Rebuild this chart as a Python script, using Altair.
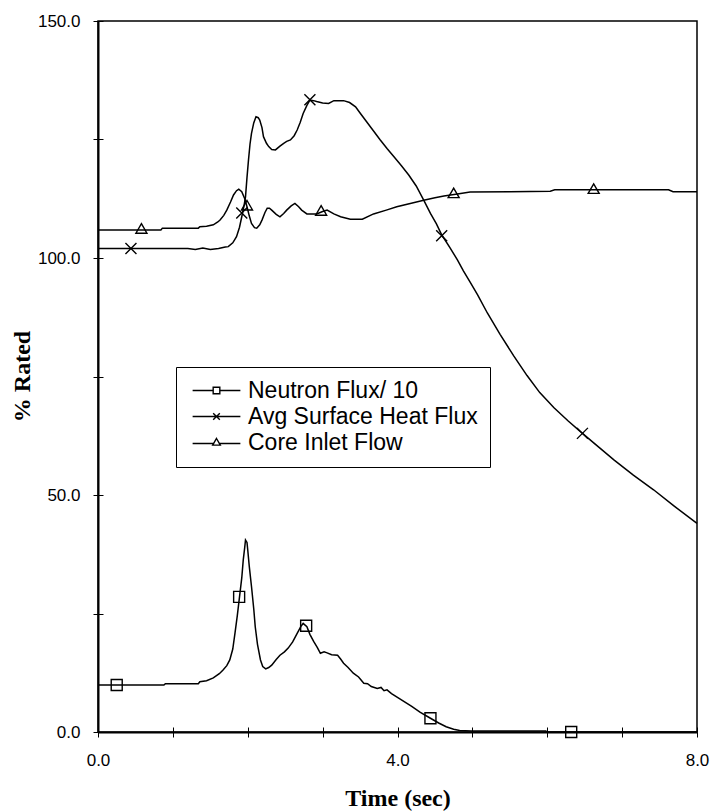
import altair as alt
import pandas as pd

# ---------------- data ----------------
SERIES = ["Neutron Flux/ 10", "Avg Surface Heat Flux", "Core Inlet Flow"]

nf_t = [0.0, 0.88, 0.9, 1.34, 1.36, 1.45, 1.54, 1.62, 1.67, 1.72, 1.76, 1.80, 1.83, 1.86,
        1.89, 1.92, 1.94, 1.96, 1.97, 1.99, 2.0, 2.02, 2.05, 2.08, 2.10, 2.13, 2.17, 2.2,
        2.24, 2.28, 2.32, 2.38, 2.43, 2.49, 2.54, 2.6, 2.66, 2.71, 2.74, 2.79, 2.83, 2.88,
        2.93, 2.97, 3.02, 3.06, 3.12, 3.20, 3.24, 3.28, 3.34, 3.41, 3.48, 3.55, 3.6, 3.65,
        3.73, 3.78, 3.82, 3.86, 3.92, 4.01, 4.1, 4.19, 4.3, 4.44, 4.55, 4.65, 4.75, 4.83,
        4.99, 5.5, 5.98, 6.0, 8.0]
nf_v = [9.9, 9.9, 10.2, 10.2, 10.6, 10.8, 11.4, 12.3, 13.1, 14.0, 15.2, 17.5, 20.9, 24.5,
        28.5, 32.5, 36.3, 39.0, 40.5, 40.0, 38.4, 35.0, 30.7, 26.0, 22.2, 18.5, 15.2, 13.8,
        13.3, 13.6, 14.1, 15.3, 16.2, 16.9, 17.7, 19.0, 20.8, 22.3, 22.9, 22.2, 20.6, 19.1,
        17.8, 16.6, 16.9, 16.7, 16.3, 16.2, 15.4, 14.5, 13.6, 12.4, 11.6, 10.3, 10.2, 9.6,
        9.2, 9.4, 8.7, 8.9, 8.1, 7.2, 6.3, 5.4, 4.2, 2.9, 1.9, 1.1, 0.6, 0.3,
        0.2, 0.2, 0.2, 0.0, 0.0]

hf_t = [0.0, 1.2, 1.3, 1.4, 1.5, 1.61, 1.7, 1.74, 1.8, 1.85, 1.89, 1.92, 1.95, 1.97, 1.99,
        2.01, 2.03, 2.05, 2.08, 2.11, 2.14, 2.16, 2.19, 2.21, 2.25, 2.28, 2.32, 2.37, 2.43,
        2.48, 2.52, 2.57, 2.62, 2.66, 2.70, 2.74, 2.79, 2.83, 2.88, 2.92, 3.0, 3.08, 3.15,
        3.28, 3.36, 3.44, 3.5, 3.57, 3.67, 3.77, 3.86, 3.95, 4.05, 4.15, 4.25, 4.35, 4.44,
        4.52, 4.59, 4.7, 4.8, 4.88, 4.97, 5.07, 5.2, 5.37, 5.55, 5.73, 5.9, 6.09, 6.28,
        6.47, 6.68, 6.89, 7.15, 7.42, 7.7, 8.0]
hf_v = [102.0, 102.0, 101.8, 102.1, 101.8, 102.0, 102.3, 102.4, 103.2, 104.5, 106.5, 108.7,
        111.0, 112.9, 117.0, 120.7, 124.0, 126.3, 128.5, 129.8, 129.6, 129.1, 127.5, 125.6,
        124.2, 123.5, 122.9, 122.8, 123.6, 124.2, 124.6, 124.9, 125.8, 127.0, 128.6, 130.5,
        132.2, 133.3, 133.2, 133.0, 132.7, 132.6, 133.2, 133.2, 132.8, 131.9, 130.6, 129.1,
        127.0, 124.9, 123.1, 121.4, 119.5, 117.5, 115.2, 112.2, 109.4, 107.2, 104.9, 102.2,
        99.6, 97.3, 94.9, 92.2, 88.4, 83.9, 79.4, 75.2, 71.6, 68.4, 65.6, 63.0, 60.2, 57.4,
        54.2, 51.1, 47.6, 44.0]

cf_t = [0.0, 0.84, 0.86, 1.34, 1.36, 1.45, 1.54, 1.6, 1.63, 1.68, 1.72, 1.77, 1.81, 1.85,
        1.88, 1.92, 1.96, 1.99, 2.02, 2.05, 2.09, 2.12, 2.16, 2.19, 2.23, 2.26, 2.29, 2.32,
        2.38, 2.43, 2.48, 2.52, 2.58, 2.63, 2.68, 2.72, 2.79, 2.92, 3.0, 3.06, 3.15, 3.24,
        3.37, 3.53, 3.68, 3.85, 3.99, 4.17, 4.35, 4.5, 4.62, 4.8, 4.97, 5.5, 6.04, 6.1,
        7.62, 7.68, 8.0]
cf_v = [105.9, 105.9, 106.3, 106.3, 106.6, 106.7, 107.0, 107.6, 108.0, 109.0, 110.1, 111.8,
        113.3, 114.2, 114.5, 114.0, 112.5, 110.8, 108.9, 107.3, 106.4, 106.3, 107.0, 108.0,
        109.6, 110.5, 110.5, 110.1, 109.2, 108.7, 109.4, 110.1, 111.0, 111.5, 110.8, 110.1,
        109.3, 109.3, 109.8, 110.1, 109.3, 108.7, 108.2, 108.2, 109.3, 110.1, 110.8, 111.5,
        112.2, 112.7, 113.1, 113.5, 113.9, 114.0, 114.1, 114.4, 114.4, 114.0, 114.0]

# marker positions
nf_mt = [0.25, 1.885, 2.78, 4.44, 6.32]
nf_mv = [9.9, 28.5, 22.4, 2.9, 0.0]
hf_mt = [0.44, 1.92, 2.83, 4.59, 6.47]
hf_mv = [102.0, 109.5, 133.4, 104.7, 63.0]
cf_mt = [0.58, 1.99, 2.98, 4.75, 6.62]
cf_mv = [105.9, 110.8, 109.7, 113.4, 114.3]

x_ticks = [0, 1, 2, 3, 4, 5, 6, 7, 8]
y_ticks = [0, 25, 50, 75, 100, 125, 150]

# ---------------- tables ----------------
def frame(ts, vs, name):
    return pd.DataFrame({"t": ts, "v": vs, "series": name})

lines_df = pd.concat([frame(nf_t, nf_v, SERIES[0]),
                      frame(hf_t, hf_v, SERIES[1]),
                      frame(cf_t, cf_v, SERIES[2])], ignore_index=True)
marks_df = pd.concat([frame(nf_mt, nf_mv, SERIES[0]),
                      frame(hf_mt, hf_mv, SERIES[1]),
                      frame(cf_mt, cf_mv, SERIES[2])], ignore_index=True)

# marker glyphs (unit paths)
SQUARE = "M-1,-1L1,-1L1,1L-1,1Z"
XMARK = "M-1,-1L1,1M-1,1L1,-1"
TRI = "M0,-1.15L1,0.58L-1,0.58Z"
# legend glyphs: line + marker
L = 7.2
LEG_SQUARE = f"M-{L},0L-1,0M1,0L{L},0M-1,-1L1,-1L1,1L-1,1Z"
LEG_X = f"M-{L},0L{L},0M-1,-1L1,1M-1,1L1,-1"
LEG_TRI = f"M-{L},0.3L-1,0.3M1,0.3L{L},0.3M0,-1.2L1.15,0.8L-1.15,0.8Z"

XS = alt.Scale(domain=[0, 8], nice=False)
YS = alt.Scale(domain=[0, 150], nice=False)

x_enc = alt.X("t:Q", scale=XS,
              axis=alt.Axis(values=x_ticks, orient="bottom",
                            labelExpr="datum.value % 4 == 0 ? format(datum.value, '.1f') : ''",
                            title="Time (sec)", titleX=299.5, titleY=66,
                            titleBaseline="middle", labelFlush=False,
                            tickSize=5, labelPadding=15, grid=False))
y_enc = alt.Y("v:Q", scale=YS,
              axis=alt.Axis(values=y_ticks, orient="left",
                            labelExpr="datum.value % 50 == 0 ? format(datum.value, '.1f') : ''",
                            title="% Rated", titleX=-76, titleY=355,
                            titleAngle=270, titleAlign="center", titleBaseline="middle",
                            labelFlush=False, tickSize=5, labelPadding=13, grid=False))

# no axes for the marker layer
x_none = alt.X("t:Q", scale=XS, axis=None)
y_none = alt.Y("v:Q", scale=YS, axis=None)

# inner halves of the crossing ticks
x_in = alt.X("t:Q", scale=XS,
             axis=alt.Axis(values=x_ticks, labels=False, domain=False, title=None,
                           tickSize=5, offset=-5, grid=False, orient="bottom"))
y_in = alt.Y("v:Q", scale=YS,
             axis=alt.Axis(values=y_ticks, labels=False, domain=False, title=None,
                           tickSize=5, offset=-5, grid=False, orient="left"))

lines = alt.Chart(lines_df).mark_line(color="black", strokeWidth=1.5).encode(
    x=x_enc, y=y_enc, detail="series:N", order="t:Q")

points = alt.Chart(marks_df).mark_point(filled=False, color="black", strokeWidth=1.4,
                                         size=121, opacity=1).encode(
    x=x_none, y=y_none,
    shape=alt.Shape("series:N", scale=alt.Scale(domain=SERIES, range=[SQUARE, XMARK, TRI]),
                    legend=None))

legend_layer = alt.Chart(marks_df).transform_filter("datum.t < 0").mark_point(
    filled=False, color="black", strokeWidth=1.3, opacity=1).encode(
    x=x_in, y=y_in,
    shape=alt.Shape("series:N",
                    scale=alt.Scale(domain=SERIES, range=[LEG_SQUARE, LEG_X, LEG_TRI]),
                    legend=alt.Legend(title=None, orient="none", legendX=78, legendY=346,
                                      strokeColor="black", fillColor="white", padding=12,
                                      labelFont="Liberation Sans", labelFontSize=23,
                                      labelColor="black", symbolSize=44,
                                      symbolStrokeColor="black", symbolStrokeWidth=1.4,
                                      symbolOpacity=1, symbolFillColor="transparent",
                                      symbolOffset=17, labelOffset=20, rowPadding=2,
                                      labelLimit=400)))

chart = alt.layer(lines, points, legend_layer).resolve_scale(
    shape="independent").resolve_axis(x="independent", y="independent").properties(
    width=599, height=711,
    background="white",
    padding={"left": 98, "top": 21, "right": 17, "bottom": 80},
    autosize=alt.AutoSizeParams(type="none"),
).configure_view(stroke="black", strokeWidth=1.5).configure_axis(
    grid=False, domainColor="black", domainWidth=2, tickColor="black", tickWidth=1,
    labelColor="black", labelFont="Liberation Sans", labelFontSize=17,
    titleColor="black", titleFont="Liberation Serif", titleFontWeight="bold",
    titleFontSize=24,
)

chart.save("out.html", embed_options={"renderer": "svg", "actions": False})
